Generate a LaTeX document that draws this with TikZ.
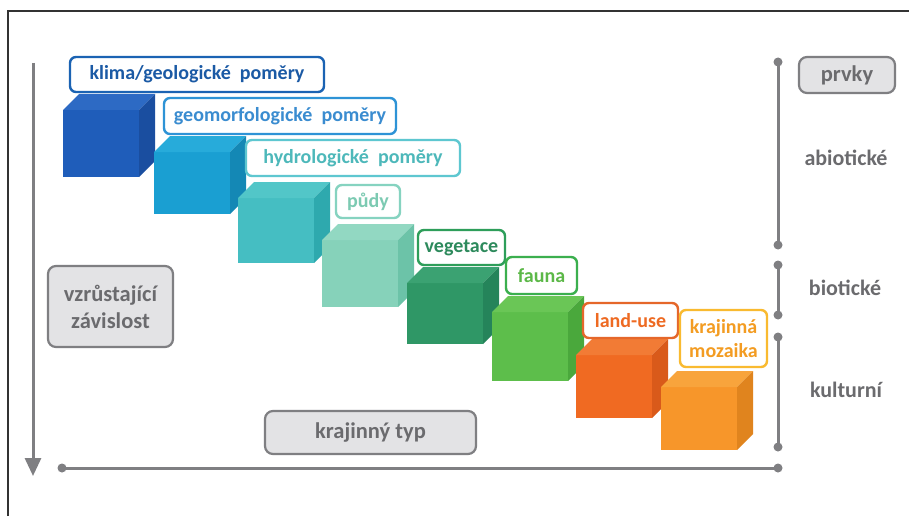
\documentclass[tikz,border=0pt]{standalone}
\usepackage{fontspec}
\setmainfont{Carlito}
\usetikzlibrary{arrows.meta}
\definecolor{gline}{HTML}{7F7F82}
\definecolor{gfill}{HTML}{E3E3E5}
\definecolor{gtext}{HTML}{6B6B6E}
\definecolor{frame}{HTML}{333333}
% cube colours
\definecolor{fA}{HTML}{1F5DBA}\definecolor{tA}{HTML}{2D6AC4}\definecolor{sA}{HTML}{1A4EA0}
\definecolor{fB}{HTML}{1A9FD2}\definecolor{tB}{HTML}{27ABDA}\definecolor{sB}{HTML}{1488B5}
\definecolor{fC}{HTML}{45BEC2}\definecolor{tC}{HTML}{52C6C8}\definecolor{sC}{HTML}{2EA9AE}
\definecolor{fD}{HTML}{86D2BA}\definecolor{tD}{HTML}{92D8C2}\definecolor{sD}{HTML}{6CC3A8}
\definecolor{fE}{HTML}{2F9766}\definecolor{tE}{HTML}{3BA272}\definecolor{sE}{HTML}{25845A}
\definecolor{fF}{HTML}{5DBE4B}\definecolor{tF}{HTML}{6AC656}\definecolor{sF}{HTML}{4AA83C}
\definecolor{fG}{HTML}{F06A22}\definecolor{tG}{HTML}{F27B35}\definecolor{sG}{HTML}{D95A1A}
\definecolor{fH}{HTML}{F7962A}\definecolor{tH}{HTML}{F8A43C}\definecolor{sH}{HTML}{E0841E}
% label colours
\definecolor{bA}{HTML}{1B63B3}\definecolor{xA}{HTML}{1B5AA5}
\definecolor{bB}{HTML}{2E93D6}\definecolor{xB}{HTML}{3A8CD0}
\definecolor{bC}{HTML}{5EC7D0}\definecolor{xC}{HTML}{4DB8BA}
\definecolor{bD}{HTML}{86D3C0}\definecolor{xD}{HTML}{7CCAB2}
\definecolor{bE}{HTML}{2E9E5A}\definecolor{xE}{HTML}{2D8A5C}
\definecolor{bF}{HTML}{3BAF4E}\definecolor{xF}{HTML}{5CB848}
\definecolor{bG}{HTML}{E5672A}\definecolor{xG}{HTML}{EE6A22}
\definecolor{bH}{HTML}{F9BA30}\definecolor{xH}{HTML}{F39C22}
\newcommand{\mycube}[4]{% x, ytop, ybottom, letter
  \fill[f#4] (#1,#2) rectangle (#1+76,#3);
  \fill[t#4] (#1,#2) -- (#1+16,#2-16) -- (#1+92,#2-16) -- (#1+76,#2) -- cycle;
  \fill[s#4] (#1+76,#2) -- (#1+92,#2-16) -- (#1+92,#3-16) -- (#1+76,#3) -- cycle;
}
\tikzset{
  lbl/.style={draw=b#1, fill=white, line width=2.4pt, rounded corners=6pt, text=x#1,
    font=\fontsize{20}{23}\selectfont\bfseries, inner sep=0pt, align=center},
  gbox/.style={draw=gline, fill=gfill, line width=2.2pt, rounded corners=8pt, text=gtext,
    font=\fontsize{22.5}{27}\selectfont\bfseries, inner sep=0pt, align=center},
  glab/.style={text=gtext, font=\fontsize{22}{26}\selectfont\bfseries, inner sep=0pt},
  axis/.style={draw=gline, line width=3pt},
  dotc/.style={fill=gline}
}
\begin{document}
\begin{tikzpicture}[x=1pt,y=-1pt]
\useasboundingbox (0,0) rectangle (909,516);
\fill[white] (0,0) rectangle (909,516);
% frame
\draw[frame, line width=1.4pt] (8,516) -- (8,11) -- (909,11);
% cubes
\mycube{63}{110}{177}{A}
\mycube{154}{152}{214}{B}
\mycube{238}{198}{263}{C}
\mycube{322}{240}{307}{D}
\mycube{407}{283}{344}{E}
\mycube{492}{312}{381}{F}
\mycube{576}{355}{418}{G}
\mycube{661}{387}{450}{H}
% labels
\node[lbl=A, minimum width=254pt, minimum height=35pt] (l1) at (197,74.5) {klima/geologické\ \ poměry};
\node[lbl=B, minimum width=232pt, minimum height=36pt] (l2) at (280,116) {geomorfologické\ \ poměry};
\node[lbl=C, minimum width=214pt, minimum height=36pt] (l3) at (353,158) {hydrologické\ \ poměry};
\node[lbl=D, minimum width=64pt, minimum height=33pt] (l4) at (368,201.5) {půdy};
\node[lbl=E, minimum width=87pt, minimum height=35pt] (l5) at (461.5,247.5) {vegetace};
\node[lbl=F, minimum width=71pt, minimum height=37pt] (l6) at (541.5,275.5) {fauna};
\node[lbl=G, minimum width=95pt, minimum height=35pt] (l7) at (630.5,320.5) {land-use};
\node[lbl=H, minimum width=87pt, minimum height=57pt, font=\fontsize{20}{24}\selectfont\bfseries] (l8) at (723.5,338.5) {krajinná\\mozaika};
% gray boxes
\node[gbox, minimum width=96pt, minimum height=36pt] (prvky) at (847,75) {prvky};
\node[gbox, minimum width=125pt, minimum height=81pt] (zav) at (110.5,306.5) {vzrůstající\\závislost};
\node[gbox, minimum width=211pt, minimum height=43pt] (typ) at (370.5,432.5) {krajinný typ};
\node[glab] (abio) at (846,158) {abiotické};
\node[glab] (bio) at (845,288) {biotické};
\node[glab] (kult) at (846,390) {kulturní};
% axes
\coordinate (vtop) at (33,63);
\coordinate (vbot) at (33,476);
\coordinate (hl) at (62,468);
\coordinate (hr) at (778,468);
\coordinate (a1) at (778,62); \coordinate (a2) at (778,245);
\coordinate (b1) at (778,265); \coordinate (b2) at (778,315);
\coordinate (c1) at (778,337); \coordinate (c2) at (778,447);
\draw[axis, -{Triangle[length=18pt,width=16pt]}] (vtop) -- (vbot);
\draw[axis] (hl) -- (hr);
\draw[axis] (a1) -- (a2);
\draw[axis] (b1) -- (b2);
\draw[axis] (c1) -- (c2);
\foreach \p in {hl,hr,a1,a2,b1,b2,c1,c2} \fill[dotc] (\p) circle (4.5pt);
\end{tikzpicture}
\end{document}
